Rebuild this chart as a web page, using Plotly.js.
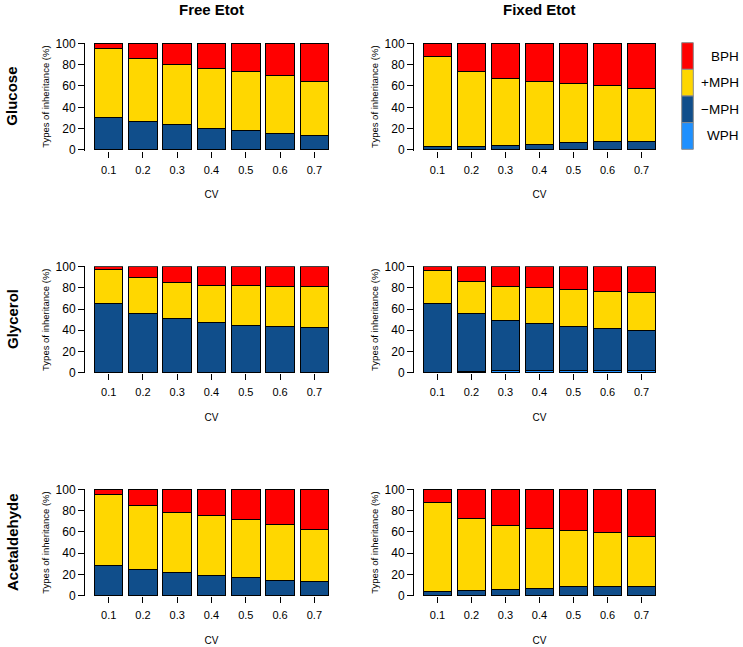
<!DOCTYPE html>
<html>
<head>
<meta charset="utf-8">
<script src="https://cdn.plot.ly/plotly-3.0.1.min.js"></script>
<style>
  html, body { margin: 0; padding: 0; background: #fff; }
  #chart { width: 743px; height: 647px; }
</style>
</head>
<body>
<div id="chart"></div>
<script>
// categories
const cv = ['0.1', '0.2', '0.3', '0.4', '0.5', '0.6', '0.7'];
const substrates = ['Glucose', 'Glycerol', 'Acetaldehyde'];
const regimes = ['Free Etot', 'Fixed Etot'];
// inheritance types, bottom to top of each stack
const inheritTypes = ['WPH', '\u2212MPH', '+MPH', 'BPH'];

// Glucose, free Etot (%)
const glucoseFreeWPH = [0, 0, 0, 0, 0, 0, 0];
const glucoseFreeNegMPH = [30.5, 26.5, 24, 20.5, 18, 15.5, 14];
const glucoseFreePosMPH = [65, 59.5, 56, 56, 56, 54, 50.5];
const glucoseFreeBPH = [4.5, 14, 20, 23.5, 26, 30.5, 35.5];

// Glucose, fixed Etot (%)
const glucoseFixedWPH = [0, 0, 0, 0, 0, 0, 0];
const glucoseFixedNegMPH = [3, 3.5, 4.5, 5.5, 7, 7.5, 8];
const glucoseFixedPosMPH = [85, 70.5, 62.5, 58.5, 55, 53, 49.5];
const glucoseFixedBPH = [12, 26, 33, 36, 38, 39.5, 42.5];

// Glycerol, free Etot (%)
const glycerolFreeWPH = [0, 0, 0, 0, 0, 0, 0];
const glycerolFreeNegMPH = [65.5, 55.5, 51.5, 47.5, 44.5, 44, 42.5];
const glycerolFreePosMPH = [31.5, 34, 33.5, 35, 38, 37.5, 38.5];
const glycerolFreeBPH = [3, 10.5, 15, 17.5, 17.5, 18.5, 19];

// Glycerol, fixed Etot (%)
const glycerolFixedWPH = [0.3, 1, 2, 2, 2, 2, 2];
const glycerolFixedNegMPH = [65.2, 55, 47.5, 44.5, 42, 40, 38];
const glycerolFixedPosMPH = [30.5, 30, 31.5, 33.5, 34.5, 34.5, 36];
const glycerolFixedBPH = [4, 14, 19, 20, 21.5, 23.5, 24];

// Acetaldehyde, free Etot (%)
const acetFreeWPH = [0, 0, 0, 0, 0, 0, 0];
const acetFreeNegMPH = [28, 25, 22, 19, 17.5, 14.5, 13.5];
const acetFreePosMPH = [67.5, 60, 56.5, 56, 54.5, 52.5, 48.5];
const acetFreeBPH = [4.5, 15, 21.5, 25, 28, 33, 38];

// Acetaldehyde, fixed Etot (%)
const acetFixedWPH = [0, 0, 0, 0, 0, 0, 0];
const acetFixedNegMPH = [3.5, 4.5, 6, 6.5, 8.5, 8.5, 9];
const acetFixedPosMPH = [84, 68.5, 60, 56.5, 52.5, 50.5, 46.5];
const acetFixedBPH = [12.5, 27, 34, 37, 39, 41, 44.5];

const yTicks = [0, 20, 40, 60, 80, 100];

// panels in row order: [free, fixed] for each substrate
const panels = [
    [glucoseFreeWPH, glucoseFreeNegMPH, glucoseFreePosMPH, glucoseFreeBPH],
    [glucoseFixedWPH, glucoseFixedNegMPH, glucoseFixedPosMPH, glucoseFixedBPH],
    [glycerolFreeWPH, glycerolFreeNegMPH, glycerolFreePosMPH, glycerolFreeBPH],
    [glycerolFixedWPH, glycerolFixedNegMPH, glycerolFixedPosMPH, glycerolFixedBPH],
    [acetFreeWPH, acetFreeNegMPH, acetFreePosMPH, acetFreeBPH],
    [acetFixedWPH, acetFixedNegMPH, acetFixedPosMPH, acetFixedBPH],
];

const colors = ['#1E90FF', '#104E8B', '#FFD700', '#FF0000'];
const W = 743, H = 647;
const FONT = 'Liberation Sans, Arial, Helvetica, sans-serif';

// pixel boxes of the plot areas
const colX = [[85, 338], [414, 665]];
const rowY = [[42.8, 150.5], [266.2, 373.2], [488.8, 596.2]];

const px = v => v / W;
const py = v => 1 - v / H;

const data = [];
const layout = {
    width: W,
    height: H,
    margin: { l: 0, r: 0, t: 0, b: 0 },
    paper_bgcolor: '#fff',
    plot_bgcolor: '#fff',
    barmode: 'stack',
    bargap: 0.2 / 1.2,
    showlegend: false,
    font: { family: FONT, color: '#000' },
    annotations: [],
    shapes: [],
};

panels.forEach((series, p) => {
    const row = Math.floor(p / 2);
    const col = p % 2;
    const n = p === 0 ? '' : String(p + 1);

    series.forEach((vals, t) => {
        data.push({
            type: 'bar',
            x: cv,
            y: vals,
            name: inheritTypes[t],
            xaxis: 'x' + n,
            yaxis: 'y' + n,
            marker: { color: colors[t], line: { color: '#000', width: 1 } },
            hovertemplate: substrates[row] + ', ' + regimes[col] + '<br>CV %{x}: %{y}%<extra>' + inheritTypes[t] + '</extra>',
        });
    });

    layout['xaxis' + n] = {
        domain: [px(colX[col][0]), px(colX[col][1])],
        anchor: 'y' + n,
        type: 'category',
        range: [-0.69, 6.69],
        showline: false,
        showgrid: false,
        zeroline: false,
        ticks: 'outside',
        ticklen: 6,
        tickwidth: 1,
        tickcolor: '#000',
        tickfont: { size: 11 },
        ticklabelstandoff: 3,
        title: { text: 'CV', font: { size: 10 }, standoff: 16 },
        fixedrange: true,
    };
    layout['yaxis' + n] = {
        domain: [py(rowY[row][1]), py(rowY[row][0])],
        anchor: 'x' + n,
        range: [-0.5, 100.5],
        tickvals: yTicks,
        showline: true,
        linecolor: '#000',
        linewidth: 1,
        showgrid: false,
        zeroline: false,
        ticks: 'outside',
        ticklen: 6,
        tickwidth: 1,
        tickcolor: '#000',
        tickfont: { size: 12 },
        title: { text: 'Types of inheritance (%)', font: { size: 9.5 }, standoff: 4 },
        fixedrange: true,
    };
});

// column titles
const colCenters = [211, 539];
regimes.forEach((txt, c) => {
    layout.annotations.push({
        text: '<b>' + txt + '</b>', xref: 'paper', yref: 'paper',
        x: px(colCenters[c]), y: py(9), xanchor: 'center', yanchor: 'middle',
        showarrow: false, font: { size: 15 },
    });
});

// row labels
const rowCenters = [96.7, 319, 542];
substrates.forEach((txt, r) => {
    layout.annotations.push({
        text: '<b>' + txt + '</b>', xref: 'paper', yref: 'paper',
        x: px(12), y: py(rowCenters[r]), xanchor: 'center', yanchor: 'middle',
        textangle: -90, showarrow: false, font: { size: 15 },
    });
});

// legend: boxes stacked like the bars, BPH on top
const legTop = 42.7, legStep = 26.65;
for (let t = inheritTypes.length - 1; t >= 0; t--) {
    const k = inheritTypes.length - 1 - t;
    const y0 = legTop + k * legStep;
    layout.shapes.push({
        type: 'rect', xref: 'paper', yref: 'paper',
        x0: px(681.7), x1: px(693.3), y0: py(y0), y1: py(y0 + legStep),
        fillcolor: colors[t], line: { color: '#8a8a8a', width: 1 },
    });
    layout.annotations.push({
        text: inheritTypes[t], xref: 'paper', yref: 'paper',
        x: px(741), y: py(y0 + legStep / 2), xanchor: 'right', yanchor: 'middle',
        showarrow: false, font: { size: 13.5 },
    });
}

Plotly.newPlot('chart', data, layout, { displayModeBar: false, responsive: false });
</script>
</body>
</html>
